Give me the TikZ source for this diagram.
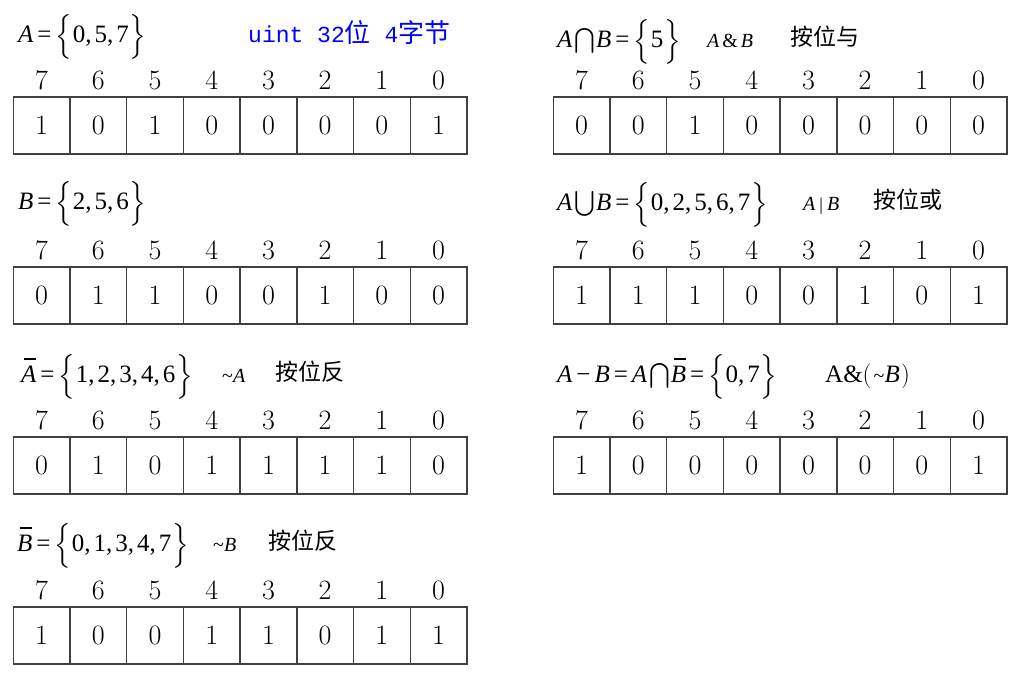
\documentclass[tikz,border=0pt]{standalone}
\usepackage{exscale}
\usepackage{fontspec}
\newfontfamily\tms{Liberation Serif}
\newfontfamily\cjk{Noto Sans CJK SC}
\newfontfamily\mono{Liberation Mono}
\newcommand\digitfont{\fontsize{28}{30}\selectfont}
\newcommand\ttlfont{\tms\fontsize{25}{30}\selectfont}
\newcommand\opfont{\tms\fontsize{20}{24}\selectfont}
\newcommand\cnfont{\cjk\fontsize{23}{27}\selectfont}
\newcommand\bracebox[1]{\raisebox{-1.5pt}{\fontsize{29}{30}\selectfont\ensuremath{#1}}}
\newcommand\mylb{\bracebox{\left\{\vrule height 19pt depth 11pt width 0pt\right.}\kern-0.5pt}
\newcommand\myrb{\kern-0.5pt\bracebox{\left.\vrule height 19pt depth 11pt width 0pt\right\}}}
\newcommand\vv[1]{{\itshape #1}}
\newcommand\barv[1]{\setbox0\hbox{\itshape #1}\rlap{\kern3pt\raisebox{22.5pt}{\rule{\dimexpr\wd0-3pt\relax}{1.2pt}}}\box0}
\newcommand\eqs{\kern4pt=\kern4pt}
\newcommand\cm{,\kern3pt}
\begin{document}
\begin{tikzpicture}[x=1pt,y=-1pt,
  cell/.style={draw=black!75, line width=1.4pt, minimum width=56.7pt, minimum height=57pt,
    inner sep=0pt, outer sep=0pt, anchor=north west, font=\digitfont},
  bitlabel/.style={inner sep=0pt, font=\digitfont},
  ttl/.style={anchor=base west, inner sep=0pt, font=\ttlfont},
  opr/.style={anchor=base west, inner sep=0pt, font=\opfont},
  cn/.style={anchor=base west, inner sep=0pt, font=\cnfont},
  bluenote/.style={anchor=base west, inner sep=0pt, text=blue}]
\useasboundingbox[fill=white] (0,0) rectangle (1019,675);

% bit rows
\foreach \nm/\xo/\top/\bits in {
  A/13.3/97/{1,0,1,0,0,0,0,1},
  B/13.3/267/{0,1,1,0,0,1,0,0},
  NA/13.3/437/{0,1,0,1,1,1,1,0},
  NB/13.3/607/{1,0,0,1,1,0,1,1},
  AND/553.3/97/{0,0,1,0,0,0,0,0},
  OR/553.3/267/{1,1,1,0,0,1,0,1},
  DIF/553.3/437/{1,0,0,0,0,0,0,1}} {
  \foreach \b [count=\i from 0] in \bits {
    \pgfmathsetmacro\lab{int(7-\i)}
    \node[cell] (\nm c\i) at ({\xo+\i*56.7},\top) {\b};
    \node[bitlabel] (\nm l\i) at ({\xo+(\i+0.5)*56.7},\top-17) {\lab};
  }
}

% titles, left column
\node[ttl] (tA) at (18,42) {\vv{A}\eqs\mylb 0\cm 5\cm 7\myrb};
\node[bluenote] (uint) at (248,42) {{\mono\fontsize{23}{26}\selectfont uint 32}{\cjk\fontsize{26}{28}\selectfont 位}{\mono\fontsize{23}{26}\selectfont\ 4}{\cjk\fontsize{26}{28}\selectfont 字节}};

\node[ttl] (tB) at (18,209) {\vv{B}\eqs\mylb 2\cm 5\cm 6\myrb};

\node[ttl] (tNA) at (21,382) {\barv{A}\eqs\mylb 1\cm 2\cm 3\cm 4\cm 6\myrb};
\node[opr] (oNA) at (222,382) {\textasciitilde\vv{A}};
\node[cn] (cNA) at (275,380) {按位反};

\node[ttl] (tNB) at (17,551) {\barv{B}\eqs\mylb 0\cm 1\cm 3\cm 4\cm 7\myrb};
\node[opr] (oNB) at (213,551) {\textasciitilde\vv{B}};
\node[cn] (cNB) at (268,549) {按位反};

% titles, right column
\node[ttl] (tAND) at (557,47) {\vv{A}\kern2pt$\bigcap$\kern1pt\vv{B}\eqs\mylb 5\myrb};
\node[opr] (oAND) at (707,47) {\vv{A}\kern3pt\&\kern3pt\vv{B}};
\node[cn] (cAND) at (790,45) {按位与};

\node[ttl] (tOR) at (557,210) {\vv{A}\kern2pt$\bigcup$\kern1pt\vv{B}\eqs\mylb 0\cm 2\cm 5\cm 6\cm 7\myrb};
\node[opr] (oOR) at (803,210) {\vv{A}\kern4pt{\fontsize{18}{20}\selectfont|}\kern4pt\vv{B}};
\node[cn] (cOR) at (873,208) {按位或};

\node[ttl] (tDIF) at (557,382) {\vv{A}\kern4pt\char"2212\kern4pt\vv{B}\eqs\vv{A}\kern2pt$\bigcap$\kern1pt\barv{B}\eqs\mylb 0\cm 7\myrb};
\node[ttl] (oDIF) at (825,382) {A\&\ensuremath{\left(\vrule height 16pt depth 7pt width 0pt\right.}\kern1pt{\opfont\textasciitilde}\vv{B}\ensuremath{\left.\vrule height 16pt depth 7pt width 0pt\right)}};
\end{tikzpicture}
\end{document}
